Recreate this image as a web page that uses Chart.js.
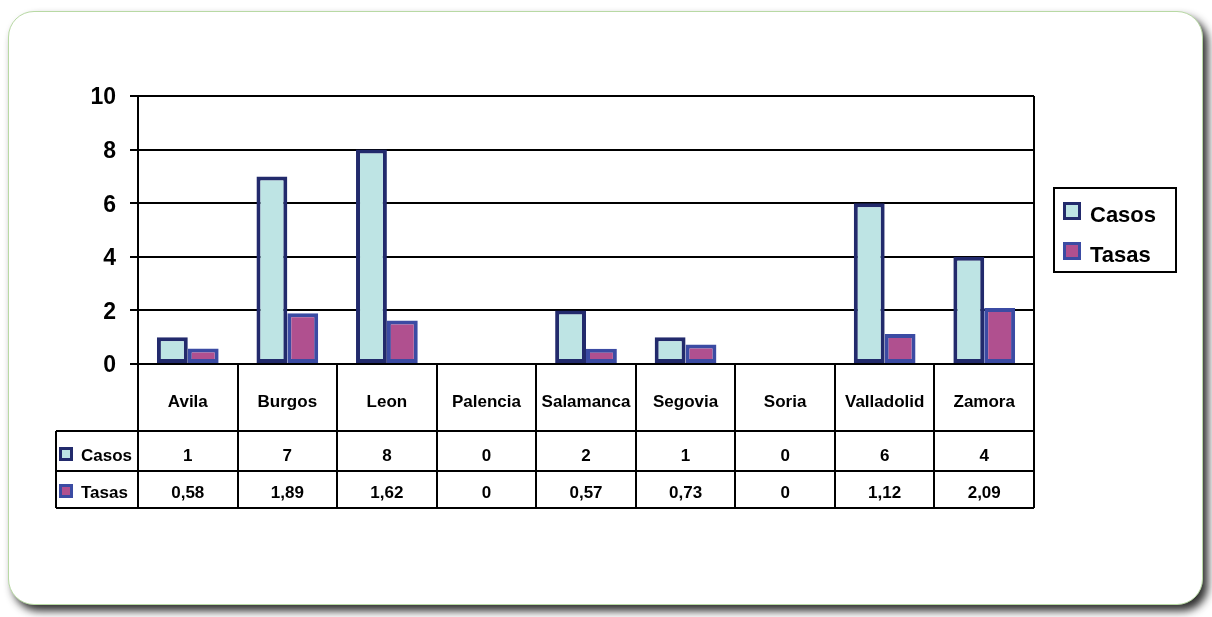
<!DOCTYPE html>
<html>
<head>
<meta charset="utf-8">
<script src="https://cdn.jsdelivr.net/npm/chart.js@4/dist/chart.umd.min.js"></script>
<style>
  html, body { margin: 0; padding: 0; background: #fff; }
  #wrap { position: relative; width: 1212px; height: 617px; overflow: hidden; }
  .frame {
    position: absolute; left: 8px; top: 11px; width: 1193px; height: 592px;
    border: 1px solid #b8d9a4; border-radius: 26px; background: #fff;
    box-shadow: 5px 6px 8px rgba(25, 25, 25, 0.9);
  }
  canvas { position: absolute; left: 0; top: 0; }
</style>
</head>
<body>
<div id="wrap">
  <div class="frame"></div>
  <canvas id="chart" width="1212" height="617"></canvas>
</div>
<script>
const categories = ["Avila", "Burgos", "Leon", "Palencia", "Salamanca", "Segovia", "Soria", "Valladolid", "Zamora"];
const casos = [1, 7, 8, 0, 2, 1, 0, 6, 4];
const tasas = [0.58, 1.89, 1.62, 0, 0.57, 0.73, 0, 1.12, 2.09];
const seriesNames = ["Casos", "Tasas"];

const FONT = "'Liberation Sans', Arial, sans-serif";

function fmt(v) {
  return String(v).replace(".", ",");
}

// data table under the plot + boxed legend on the right
const tablePlugin = {
  id: "tablePlugin",
  afterDraw(chart) {
    const ctx = chart.ctx;
    const x = chart.scales.x;
    const area = chart.chartArea;
    const colW = (x.right - x.left) / categories.length;
    const rowTop = area.bottom, rowCat = 431, rowA = 471, rowB = 508, labelLeft = 56;

    ctx.save();
    ctx.strokeStyle = "#000";
    ctx.lineWidth = 2;
    // right border of plot
    ctx.beginPath();
    ctx.moveTo(area.right, area.top);
    ctx.lineTo(area.right, area.bottom);
    ctx.stroke();

    // table grid
    ctx.beginPath();
    [rowCat, rowA, rowB].forEach(y => {
      ctx.moveTo(labelLeft, y);
      ctx.lineTo(x.right, y);
    });
    for (let i = 0; i <= categories.length; i++) {
      const px = Math.round(x.left + i * colW);
      ctx.moveTo(px, rowTop);
      ctx.lineTo(px, rowB);
    }
    ctx.moveTo(labelLeft, rowCat);
    ctx.lineTo(labelLeft, rowB);
    ctx.stroke();

    ctx.fillStyle = "#000";
    ctx.font = "bold 17px " + FONT;
    ctx.textAlign = "center";
    ctx.textBaseline = "alphabetic";
    const rows = [casos, tasas];
    const baselines = [461, 498];
    categories.forEach((c, i) => {
      const cx = x.getPixelForValue(i);
      ctx.fillText(c, cx, 407);
      rows.forEach((r, j) => ctx.fillText(fmt(r[i]), cx, baselines[j]));
    });

    // row labels with swatches
    ctx.textAlign = "left";
    chart.data.datasets.forEach((ds, j) => {
      const by = baselines[j];
      ctx.fillStyle = ds.borderColor;
      ctx.fillRect(59, by - 14, 14, 14);
      ctx.fillStyle = ds.backgroundColor;
      ctx.fillRect(62, by - 11, 8, 8);
      ctx.fillStyle = "#000";
      ctx.fillText(ds.label, 81, by);
    });

    // legend
    ctx.lineWidth = 2;
    ctx.strokeRect(1054, 188, 122, 84);
    ctx.font = "bold 22px " + FONT;
    const legY = [222, 262];
    chart.data.datasets.forEach((ds, j) => {
      const by = legY[j];
      ctx.fillStyle = ds.borderColor;
      ctx.fillRect(1063, by - 20, 18, 18);
      ctx.fillStyle = ds.backgroundColor;
      ctx.fillRect(1066, by - 17, 12, 12);
      ctx.fillStyle = "#000";
      ctx.fillText(ds.label, 1090, by);
    });
    ctx.restore();
  }
};

new Chart(document.getElementById("chart"), {
  type: "bar",
  data: {
    labels: categories,
    datasets: [
      {
        label: seriesNames[0],
        data: casos,
        backgroundColor: "#bee4e4",
        borderColor: "#222a6c",
        borderWidth: 4,
        borderSkipped: false
      },
      {
        label: seriesNames[1],
        data: tasas,
        backgroundColor: "#b0508f",
        borderColor: "#3b4ba3",
        borderWidth: 4,
        borderSkipped: false
      }
    ]
  },
  options: {
    responsive: false,
    animation: false,
    devicePixelRatio: 1,
    layout: { padding: { left: 0, top: 96, right: 178, bottom: 253 } },
    datasets: { bar: { categoryPercentage: 0.62, barPercentage: 1.0 } },
    plugins: {
      legend: { display: false },
      tooltip: { enabled: false }
    },
    scales: {
      x: { display: false },
      y: {
        min: 0,
        max: 10,
        ticks: {
          stepSize: 2,
          color: "#000",
          padding: 14,
          labelOffset: 2,
          font: { family: FONT, size: 23, weight: "bold" }
        },
        grid: { color: "#000", lineWidth: 2, tickLength: 8 },
        border: { display: true, color: "#000", width: 2 },
        afterFit(scale) { scale.width = 138; }
      }
    }
  },
  plugins: [tablePlugin]
});
</script>
</body>
</html>
